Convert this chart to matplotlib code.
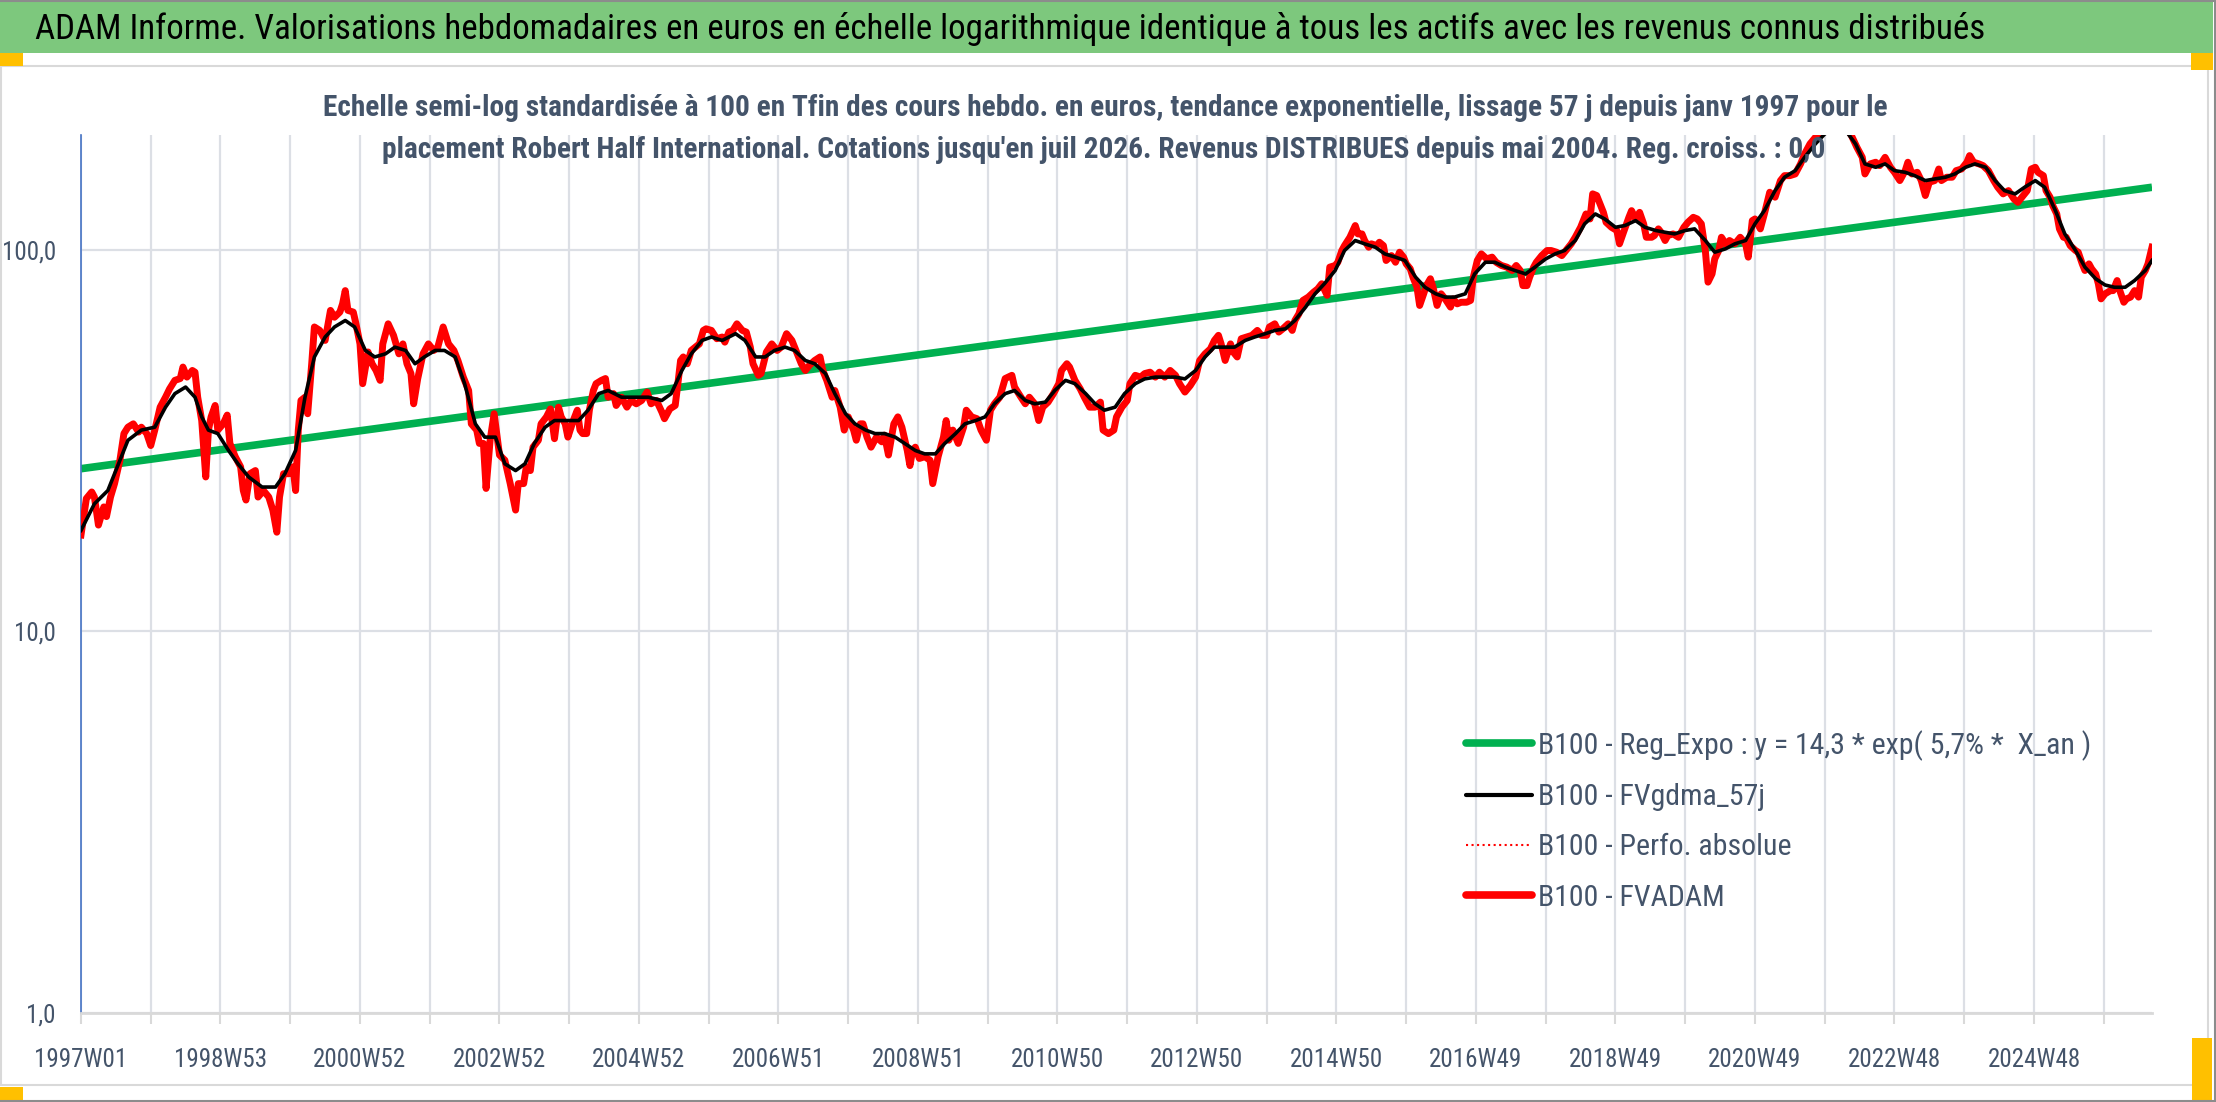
import numpy as np
import matplotlib
matplotlib.use("Agg")
import matplotlib.pyplot as plt
from matplotlib import font_manager
from matplotlib.patches import Rectangle
from matplotlib.lines import Line2D
from matplotlib.ticker import FixedLocator, NullLocator

# ---- data (week index since 1997W01, base-100 values)
x_labels = ['1997W01', '1998W53', '2000W52', '2002W52', '2004W52', '2006W51',
            '2008W51', '2010W50', '2012W50', '2014W50', '2016W49', '2018W49',
            '2020W49', '2022W48', '2024W48']
n_weeks = 1545

trend_weeks = [0, 1544]
trend_vals = [26.7, 145.9]

fvadam_weeks = [
    0, 4, 8, 10, 13, 17, 19, 22, 25, 29, 32, 35, 39, 43, 45, 49, 52, 55, 59, 63,
    66, 70, 74, 76, 79, 83, 85, 87, 90, 93, 95, 97, 100, 102, 106, 109, 111, 115, 119, 121,
    123, 126, 130, 132, 136, 140, 143, 146, 148, 151, 155, 158, 160, 162, 164, 167, 169, 172, 174, 178,
    182, 186, 189, 193, 195, 197, 199, 203, 205, 208, 210, 214, 217, 220, 223, 225, 229, 233, 237, 240,
    243, 246, 248, 251, 255, 259, 263, 266, 270, 274, 278, 281, 285, 289, 291, 295, 297, 300, 302, 305,
    308, 312, 316, 320, 324, 326, 330, 332, 335, 337, 341, 343, 347, 350, 353, 356, 358, 361, 363, 367,
    370, 372, 374, 377, 379, 382, 384, 388, 391, 393, 397, 399, 403, 407, 410, 414, 418, 422, 425, 429,
    433, 435, 439, 443, 445, 447, 449, 452, 455, 458, 461, 464, 466, 470, 474, 478, 480, 483, 486, 489,
    493, 496, 499, 501, 505, 507, 511, 515, 519, 522, 526, 530, 534, 537, 540, 543, 547, 551, 553, 556,
    560, 562, 566, 569, 572, 576, 578, 581, 583, 586, 589, 593, 597, 599, 602, 606, 609, 612, 616, 618,
    620, 622, 625, 629, 633, 635, 639, 643, 645, 647, 650, 654, 658, 660, 664, 668, 671, 675, 678, 681,
    685, 689, 694, 696, 700, 704, 707, 711, 714, 717, 721, 725, 729, 731, 735, 737, 741, 745, 748, 752,
    756, 760, 762, 766, 770, 772, 776, 780, 782, 786, 790, 793, 797, 801, 804, 808, 812, 816, 819, 823,
    827, 831, 834, 838, 842, 845, 848, 850, 853, 857, 859, 862, 865, 869, 873, 877, 880, 884, 886, 890,
    893, 896, 900, 903, 905, 908, 911, 915, 919, 922, 925, 929, 931, 935, 937, 940, 942, 946, 950, 952,
    955, 957, 960, 962, 966, 968, 971, 973, 977, 980, 983, 986, 988, 991, 993, 996, 998, 1001, 1003, 1006,
    1008, 1011, 1014, 1017, 1021, 1023, 1026, 1029, 1033, 1036, 1038, 1041, 1044, 1048, 1052, 1055, 1059, 1063, 1067, 1070,
    1073, 1075, 1078, 1080, 1083, 1085, 1089, 1093, 1096, 1100, 1104, 1108, 1111, 1114, 1118, 1120, 1122, 1125, 1127, 1130,
    1132, 1135, 1137, 1141, 1145, 1147, 1150, 1154, 1156, 1159, 1162, 1165, 1167, 1171, 1173, 1176, 1178, 1181, 1183, 1187,
    1191, 1195, 1198, 1202, 1205, 1208, 1211, 1213, 1216, 1218, 1221, 1223, 1227, 1229, 1233, 1237, 1241, 1243, 1246, 1248,
    1252, 1255, 1259, 1263, 1267, 1270, 1274, 1278, 1282, 1285, 1289, 1293, 1296, 1300, 1305, 1310, 1315, 1320, 1324, 1328,
    1330, 1334, 1338, 1341, 1345, 1349, 1352, 1356, 1360, 1362, 1365, 1369, 1372, 1375, 1378, 1382, 1385, 1387, 1391, 1395,
    1398, 1402, 1406, 1408, 1411, 1415, 1418, 1422, 1426, 1429, 1433, 1437, 1441, 1444, 1447, 1451, 1454, 1457, 1459, 1463,
    1465, 1468, 1470, 1473, 1475, 1478, 1480, 1483, 1487, 1489, 1492, 1494, 1497, 1499, 1502, 1504, 1506, 1509, 1513, 1515,
    1518, 1520, 1523, 1525, 1528, 1531, 1534, 1536, 1539, 1541, 1544]
fvadam_vals = [
    17.9, 22.3, 23.2, 22.5, 19.0, 21.2, 20.0, 22.5, 24.4, 28.1, 33.0, 34.3, 35.0, 33.3, 34.3, 33.0, 30.7, 33.7, 38.7, 41.1,
    43.2, 45.5, 46.0, 49.3, 46.4, 48.3, 47.8, 41.1, 35.7, 25.4, 33.7, 36.5, 39.1, 33.7, 35.0, 36.9, 31.1, 28.7, 27.0, 23.4,
    22.1, 25.9, 26.4, 22.5, 23.4, 22.5, 20.8, 18.2, 22.5, 25.9, 25.9, 27.0, 23.4, 33.7, 40.3, 41.1, 37.2, 50.3, 62.8, 61.5,
    57.9, 69.4, 66.6, 68.7, 72.2, 78.2, 69.4, 68.7, 64.0, 56.7, 44.6, 54.0, 50.3, 48.3, 45.5, 56.7, 64.0, 59.7, 53.4, 56.7,
    50.3, 47.4, 39.5, 45.9, 53.4, 56.7, 54.5, 55.6, 62.8, 56.7, 54.5, 51.3, 46.4, 42.8, 35.0, 33.7, 31.1, 31.1, 23.7, 31.7,
    37.2, 29.0, 28.1, 24.4, 20.8, 24.4, 24.4, 27.0, 26.4, 30.4, 31.7, 35.0, 36.5, 38.3, 32.0, 38.7, 36.5, 35.0, 32.3, 35.7,
    38.0, 33.7, 33.0, 33.0, 38.0, 42.8, 44.6, 45.5, 46.0, 41.1, 42.0, 39.1, 41.1, 38.7, 40.3, 39.5, 40.3, 42.4, 39.5, 40.3,
    37.6, 36.1, 38.3, 39.1, 44.6, 51.3, 52.4, 50.3, 54.5, 55.6, 56.7, 61.5, 62.1, 61.5, 58.5, 59.1, 57.3, 60.9, 61.5, 64.0,
    61.5, 60.9, 55.6, 50.3, 46.9, 47.4, 54.0, 56.7, 54.5, 55.6, 60.3, 57.9, 53.4, 50.3, 48.3, 49.8, 51.3, 52.4, 48.3, 45.5,
    41.1, 42.8, 38.7, 33.7, 36.5, 33.7, 31.7, 35.0, 35.0, 32.3, 30.4, 32.3, 31.4, 32.7, 29.0, 35.0, 36.5, 34.3, 29.8, 27.2,
    29.8, 30.4, 28.4, 28.7, 28.1, 24.4, 28.7, 32.3, 35.7, 31.7, 33.7, 31.1, 34.3, 38.0, 36.5, 36.1, 33.7, 31.7, 38.0, 39.5,
    41.1, 46.0, 46.9, 43.7, 41.5, 39.5, 41.1, 39.5, 35.7, 38.7, 39.9, 42.0, 44.6, 48.3, 50.3, 49.3, 45.5, 43.2, 41.1, 38.7,
    38.7, 39.9, 33.7, 33.0, 33.7, 36.5, 38.7, 40.3, 44.6, 46.9, 46.4, 47.4, 47.8, 46.4, 47.8, 46.4, 48.3, 46.9, 44.6, 42.4,
    44.1, 46.4, 51.3, 53.4, 55.0, 57.9, 59.7, 56.7, 51.3, 56.7, 54.0, 52.4, 58.5, 59.1, 59.7, 61.5, 59.7, 59.7, 62.8, 64.0,
    60.9, 62.1, 64.0, 61.5, 65.3, 68.0, 73.7, 75.2, 77.5, 79.0, 81.5, 76.0, 90.1, 91.0, 92.8, 99.6, 102.6, 107.9, 115.8, 110.1,
    110.1, 105.8, 101.6, 103.7, 102.6, 104.7, 102.6, 93.8, 96.6, 92.8, 98.6, 95.7, 91.9, 89.2, 84.8, 79.8, 71.5, 76.7, 80.6, 84.0,
    79.8, 71.5, 76.7, 74.4, 70.8, 74.4, 72.2, 72.9, 72.9, 73.7, 84.8, 93.8, 97.6, 94.7, 95.7, 92.8, 91.0, 90.1, 88.3, 91.0,
    88.3, 80.6, 80.6, 84.8, 90.1, 92.8, 96.6, 99.6, 99.6, 98.6, 96.6, 100.6, 103.7, 107.9, 114.6, 119.3, 124.2, 120.5, 140.2, 138.8,
    133.2, 125.4, 118.1, 114.6, 112.4, 103.7, 111.2, 121.7, 126.7, 120.5, 125.4, 117.0, 107.9, 107.9, 109.0, 113.5, 111.2, 105.8, 109.0, 110.1,
    107.9, 114.6, 118.1, 121.7, 120.5, 117.0, 99.6, 82.3, 86.5, 94.7, 99.6, 107.9, 102.6, 105.8, 103.7, 107.9, 103.7, 95.7, 119.3, 120.5,
    113.5, 124.2, 141.6, 137.4, 151.9, 156.5, 156.5, 158.1, 168.0, 178.4, 189.5, 197.2, 203.0, 215.0, 222.0, 226.0, 214.0, 199.0, 185.7, 174.8,
    158.1, 168.0, 169.7, 166.3, 174.8, 164.6, 159.7, 151.9, 161.3, 169.7, 158.1, 159.7, 151.9, 138.8, 150.4, 151.9, 162.9, 151.9, 155.0, 155.0,
    161.3, 162.9, 169.7, 176.6, 169.7, 168.0, 166.3, 161.3, 151.9, 145.9, 140.2, 143.0, 136.0, 133.2, 137.4, 143.0, 162.9, 164.6, 159.7, 156.5,
    143.0, 137.4, 130.6, 124.2, 113.5, 107.9, 107.9, 102.6, 99.6, 98.6, 91.9, 88.3, 91.9, 89.2, 86.5, 81.5, 74.4, 76.7, 78.2, 78.2,
    83.1, 78.2, 72.9, 74.4, 75.2, 78.2, 75.2, 84.8, 88.3, 91.9, 101.6]

fvgdma_weeks = [
    0, 10, 20, 28, 35, 45, 55, 63, 70, 78, 85, 90, 95, 102, 110, 117, 125, 135, 145, 152,
    160, 167, 174, 182, 189, 197, 204, 212, 219, 227, 234, 242, 249, 256, 264, 271, 279, 286, 294, 301,
    309, 316, 324, 331, 338, 346, 353, 361, 371, 378, 386, 393, 403, 413, 423, 433, 440, 448, 455, 463,
    470, 478, 488, 495, 503, 510, 517, 525, 532, 540, 547, 555, 562, 570, 577, 585, 592, 599, 607, 614,
    622, 629, 637, 644, 652, 659, 667, 674, 681, 689, 696, 704, 711, 719, 726, 734, 741, 749, 756, 763,
    771, 778, 786, 793, 801, 808, 816, 823, 831, 838, 845, 853, 860, 868, 875, 883, 890, 898, 905, 913,
    920, 927, 935, 942, 950, 957, 965, 972, 980, 987, 995, 1002, 1010, 1017, 1024, 1032, 1039, 1047, 1054, 1062,
    1069, 1077, 1084, 1092, 1099, 1106, 1114, 1121, 1129, 1136, 1144, 1151, 1159, 1166, 1174, 1181, 1188, 1196, 1203, 1211,
    1218, 1226, 1233, 1241, 1248, 1255, 1263, 1270, 1278, 1285, 1293, 1300, 1308, 1315, 1323, 1330, 1338, 1345, 1352, 1360,
    1367, 1375, 1382, 1390, 1397, 1405, 1412, 1420, 1427, 1434, 1442, 1449, 1457, 1464, 1472, 1479, 1487, 1494, 1502, 1509,
    1516, 1524, 1531, 1539, 1544]
fvgdma_vals = [
    18.4, 21.6, 23.4, 27.5, 31.7, 33.7, 34.3, 38.7, 42.0, 43.7, 41.1, 36.5, 33.7, 33.0, 29.8, 27.5, 25.4, 23.9, 23.9, 25.9,
    29.8, 41.1, 52.4, 59.1, 62.8, 65.3, 62.8, 54.5, 52.4, 53.4, 55.6, 54.5, 50.3, 52.4, 54.5, 54.5, 52.4, 44.6, 35.0, 32.3,
    32.3, 27.5, 26.4, 27.5, 31.1, 34.3, 35.7, 35.7, 35.7, 38.0, 42.0, 42.8, 41.1, 41.1, 41.1, 40.3, 42.0, 48.3, 53.4, 57.9,
    59.1, 57.9, 60.3, 57.9, 52.4, 52.4, 54.5, 55.6, 54.5, 51.3, 50.3, 47.4, 42.0, 37.2, 35.0, 33.7, 33.0, 33.0, 32.3, 31.1,
    29.8, 29.2, 29.2, 31.1, 33.0, 35.0, 35.7, 36.5, 39.5, 42.0, 42.8, 40.3, 39.5, 39.9, 42.8, 45.5, 44.6, 42.0, 39.5, 38.0,
    38.7, 42.0, 44.6, 45.9, 46.4, 46.4, 46.4, 45.9, 48.3, 52.4, 55.6, 55.6, 55.6, 57.9, 59.1, 60.3, 61.5, 62.1, 65.3, 70.8,
    76.7, 81.5, 88.3, 99.6, 105.8, 103.7, 101.6, 97.6, 95.7, 93.8, 84.8, 79.8, 76.7, 75.2, 75.2, 76.7, 86.5, 92.8, 92.8, 90.1,
    88.3, 86.5, 90.1, 94.7, 97.6, 99.6, 105.8, 117.0, 124.2, 120.5, 114.6, 115.8, 119.3, 114.6, 112.4, 111.2, 110.1, 112.4, 113.5, 105.8,
    98.6, 100.6, 103.7, 105.8, 117.0, 126.7, 143.0, 155.0, 161.3, 174.8, 189.5, 201.2, 209.5, 207.0, 189.5, 168.0, 164.6, 168.0, 161.3, 159.7,
    156.5, 151.9, 153.4, 155.0, 158.1, 164.6, 168.0, 164.6, 151.9, 143.0, 140.2, 145.9, 151.9, 145.9, 126.7, 110.1, 99.6, 90.1, 84.0, 80.9,
    79.8, 79.8, 83.1, 88.3, 93.8]

legend_labels = ['B100 - Reg_Expo : y = 14,3 * exp( 5,7% *  X_an )',
                 'B100 - FVgdma_57j',
                 'B100 - Perfo. absolue',
                 'B100 - FVADAM']

title = ("ADAM Informe. Valorisations hebdomadaires en euros en échelle logarithmique "
         "identique à tous les actifs avec les revenus connus distribués")
subtitle_1 = ("Echelle semi-log standardisée à 100 en Tfin des cours hebdo. en euros, "
              "tendance exponentielle, lissage 57 j depuis janv 1997 pour le")
subtitle_2 = ("placement Robert Half International. Cotations jusqu'en juil 2026. "
              "Revenus DISTRIBUES depuis mai 2004. Reg. croiss. : 0,0")

# ---- fonts
avail = {f.name for f in font_manager.fontManager.ttflist}
narrow = next((f for f in ['Liberation Sans Narrow', 'Roboto Condensed', 'Open Sans Condensed']
               if f in avail), 'Liberation Sans')
plt.rcParams['font.family'] = [narrow, 'DejaVu Sans']

TXT = '#44546A'
GRID = '#DCDFE5'
W, H = 2216, 1102

fig = plt.figure(figsize=(W / 100, H / 100), dpi=100)
fig.patch.set_facecolor('white')


def px_rect(x0, y0, x1, y1, **kw):
    # rectangle given in pixel coords, origin top-left
    fig.patches.append(Rectangle((x0 / W, 1 - y1 / H), (x1 - x0) / W, (y1 - y0) / H,
                                 transform=fig.transFigure, figure=fig, **kw))


# frame + title banner + selection handles
px_rect(1, 66, 2208, 1085, facecolor='none', edgecolor='#D9D9D9', lw=1.5, zorder=-1)
px_rect(0, 2, 2213, 53, facecolor='#7DC87D', edgecolor='none')
px_rect(0, 53, 23, 66, facecolor='#FFC000', edgecolor='none')
px_rect(2191, 53, 2213, 70, facecolor='#FFC000', edgecolor='none')
px_rect(0, 1087, 23, 1100, facecolor='#FFC000', edgecolor='none')
px_rect(2192, 1038, 2212, 1100, facecolor='#FFC000', edgecolor='none')
fig.add_artist(Line2D([0, 1], [1 - 1 / H, 1 - 1 / H], transform=fig.transFigure, color='#8C8C8C', lw=1.5))
fig.add_artist(Line2D([0, 1], [1 / H, 1 / H], transform=fig.transFigure, color='#8C8C8C', lw=1.5))
fig.add_artist(Line2D([1 - 1.5 / W, 1 - 1.5 / W], [0, 1], transform=fig.transFigure, color='#8C8C8C', lw=1.5))

# ---- axes
ax = fig.add_axes([81 / W, (H - 1013) / H, 2071 / W, (1013 - 135) / H])
ax.set_facecolor('none')
ax.set_yscale('log')
ax.set_ylim(1, 200)
ax.set_xlim(0, n_weeks - 1)

ax.plot(trend_weeks, trend_vals, color='#00B050', lw=5.5, solid_capstyle='butt', zorder=2)
ax.plot(fvadam_weeks, fvadam_vals, color='#FF0000', lw=1.2, ls=':', zorder=2.5)
ax.plot(fvadam_weeks, fvadam_vals, color='#FF0000', lw=5.0, solid_joinstyle='round', zorder=3)
ax.plot(fvgdma_weeks, fvgdma_vals, color='black', lw=2.6, zorder=4)

label_pos = np.arange(len(x_labels)) * 104
ax.xaxis.set_major_locator(FixedLocator(label_pos))
ax.xaxis.set_minor_locator(FixedLocator(np.arange(52, n_weeks, 104)))
ax.set_xticklabels(x_labels)
ax.tick_params(axis='x', which='both', length=8, width=1.5, color='#D9D9D9',
               labelsize=18, labelcolor=TXT, pad=17)
ax.grid(True, axis='x', which='both', color=GRID, lw=1.6, zorder=0)

ax.yaxis.set_major_locator(FixedLocator([1, 10, 100]))
ax.yaxis.set_minor_locator(NullLocator())
ax.set_yticklabels(['1,0', '10,0', '100,0'])
ax.tick_params(axis='y', which='both', length=0, labelsize=18, labelcolor=TXT, pad=18)
ax.grid(True, axis='y', which='major', color=GRID, lw=1.6, zorder=0)
ax.set_axisbelow(True)

for s in ['top', 'right']:
    ax.spines[s].set_visible(False)
ax.spines['left'].set_color('#4472C4')
ax.spines['left'].set_linewidth(1.2)
ax.spines['bottom'].set_color('#D9D9D9')
ax.spines['bottom'].set_linewidth(2)

# ---- legend
handles = [Line2D([], [], color='#00B050', lw=5.5, solid_capstyle='round'),
           Line2D([], [], color='black', lw=3, solid_capstyle='round'),
           Line2D([], [], color='#FF0000', lw=1.5, ls=':'),
           Line2D([], [], color='#FF0000', lw=5.5, solid_capstyle='round')]
leg = fig.legend(handles, legend_labels, loc='upper left',
                 bbox_to_anchor=(1466 / W, 1 - 730 / H), frameon=False,
                 fontsize=21.5, handlelength=2.2, handletextpad=0.22,
                 labelspacing=0.75, borderpad=0, borderaxespad=0)
for t in leg.get_texts():
    t.set_color(TXT)

# ---- titles
t_main = fig.text(35 / W, 1 - 29 / H, title, ha='left', va='center', fontsize=24, color='black')
t_sub1 = fig.text(1105 / W, 1 - 108 / H, subtitle_1, ha='center', va='center',
                  fontsize=18, fontweight='bold', color=TXT)
t_sub2 = fig.text(1104 / W, 1 - 150 / H, subtitle_2, ha='center', va='center',
                  fontsize=18, fontweight='bold', color=TXT)

# fit widths of the long lines to the reference
fig.canvas.draw()
r = fig.canvas.get_renderer()
for t, target in [(t_main, 1953), (t_sub1, 1567), (t_sub2, 1443)]:
    w = t.get_window_extent(r).width
    t.set_fontsize(t.get_fontsize() * target / w)

fig.savefig('out.png', dpi=100, facecolor='white')
